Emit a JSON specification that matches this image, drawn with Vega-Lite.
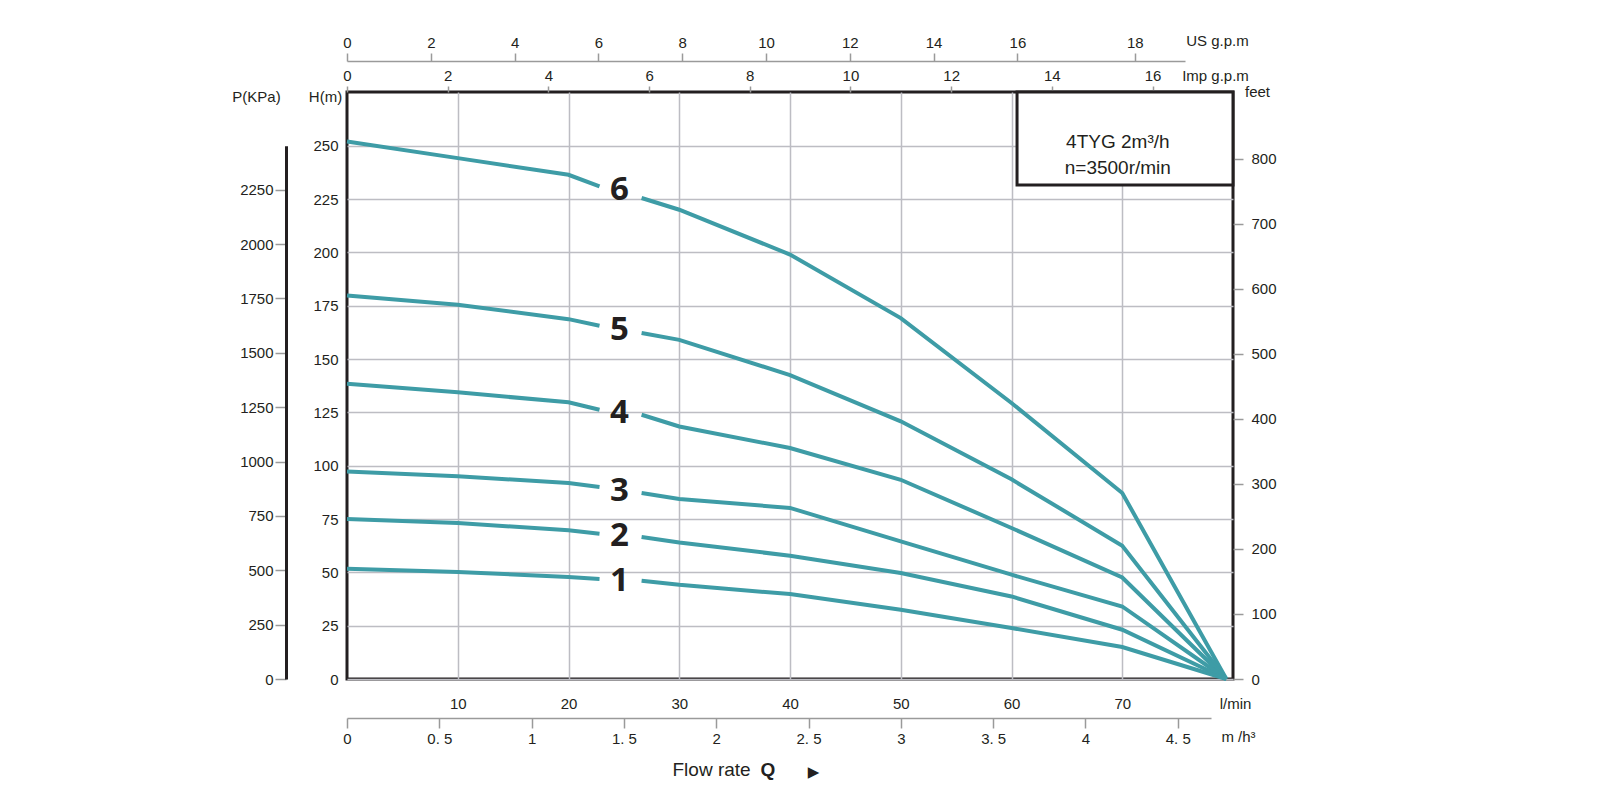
{
  "$schema": "https://vega.github.io/schema/vega-lite/v6.json",
  "width": 886,
  "height": 587,
  "autosize": {"type": "none"},
  "padding": {"left": 347, "top": 92, "right": 367, "bottom": 121},
  "background": "white",
  "config": {
    "view": {"stroke": "#231f20", "strokeWidth": 3},
    "axis": {
      "labelFont": "Liberation Sans", "labelFontSize": 15, "labelColor": "#231f20",
      "titleFont": "Liberation Sans", "titleFontSize": 15, "titleFontWeight": "normal", "titleColor": "#231f20",
      "gridColor": "#bdbdc3", "gridWidth": 1.5, "tickColor": "#9a9a9a", "tickWidth": 1.5,
      "domainColor": "#9a9a9a", "domainWidth": 1.5, "labelFlush": false, "labelOverlap": false
    }
  },
  "datasets": {
    "curves": [
      {"pump": "6", "seg": "6a", "q": 0, "h": 252},
      {"pump": "6", "seg": "6a", "q": 10, "h": 244.2},
      {"pump": "6", "seg": "6a", "q": 20, "h": 236.4},
      {"pump": "6", "seg": "6a", "q": 22.8, "h": 231},
      {"pump": "6", "seg": "6b", "q": 26.6, "h": 225.5},
      {"pump": "6", "seg": "6b", "q": 30, "h": 220},
      {"pump": "6", "seg": "6b", "q": 40, "h": 199},
      {"pump": "6", "seg": "6b", "q": 50, "h": 169.2},
      {"pump": "6", "seg": "6b", "q": 60, "h": 129.4},
      {"pump": "6", "seg": "6b", "q": 70, "h": 87.2},
      {"pump": "6", "seg": "6b", "q": 79.4, "h": 0},
      {"pump": "5", "seg": "5a", "q": 0, "h": 179.8},
      {"pump": "5", "seg": "5a", "q": 10, "h": 175.5},
      {"pump": "5", "seg": "5a", "q": 20, "h": 168.7},
      {"pump": "5", "seg": "5a", "q": 22.8, "h": 165.6},
      {"pump": "5", "seg": "5b", "q": 26.6, "h": 162.2},
      {"pump": "5", "seg": "5b", "q": 30, "h": 159},
      {"pump": "5", "seg": "5b", "q": 40, "h": 142.5},
      {"pump": "5", "seg": "5b", "q": 50, "h": 120.8},
      {"pump": "5", "seg": "5b", "q": 60, "h": 93.6},
      {"pump": "5", "seg": "5b", "q": 70, "h": 62.5},
      {"pump": "5", "seg": "5b", "q": 79.4, "h": 0},
      {"pump": "4", "seg": "4a", "q": 0, "h": 138.4},
      {"pump": "4", "seg": "4a", "q": 10, "h": 134.4},
      {"pump": "4", "seg": "4a", "q": 20, "h": 129.7},
      {"pump": "4", "seg": "4a", "q": 22.8, "h": 126.2},
      {"pump": "4", "seg": "4b", "q": 26.6, "h": 123.9},
      {"pump": "4", "seg": "4b", "q": 30, "h": 118.4},
      {"pump": "4", "seg": "4b", "q": 40, "h": 108.3},
      {"pump": "4", "seg": "4b", "q": 50, "h": 93.4},
      {"pump": "4", "seg": "4b", "q": 60, "h": 70.8},
      {"pump": "4", "seg": "4b", "q": 70, "h": 47.6},
      {"pump": "4", "seg": "4b", "q": 79.4, "h": 0},
      {"pump": "3", "seg": "3a", "q": 0, "h": 97.3},
      {"pump": "3", "seg": "3a", "q": 10, "h": 95},
      {"pump": "3", "seg": "3a", "q": 20, "h": 91.9},
      {"pump": "3", "seg": "3a", "q": 22.8, "h": 90},
      {"pump": "3", "seg": "3b", "q": 26.6, "h": 87.2},
      {"pump": "3", "seg": "3b", "q": 30, "h": 84.4},
      {"pump": "3", "seg": "3b", "q": 40, "h": 80.2},
      {"pump": "3", "seg": "3b", "q": 50, "h": 64.5},
      {"pump": "3", "seg": "3b", "q": 60, "h": 48.9},
      {"pump": "3", "seg": "3b", "q": 70, "h": 34},
      {"pump": "3", "seg": "3b", "q": 79.4, "h": 0},
      {"pump": "2", "seg": "2a", "q": 0, "h": 75},
      {"pump": "2", "seg": "2a", "q": 10, "h": 73.1},
      {"pump": "2", "seg": "2a", "q": 20, "h": 69.7},
      {"pump": "2", "seg": "2a", "q": 22.8, "h": 68.1},
      {"pump": "2", "seg": "2b", "q": 26.6, "h": 66.6},
      {"pump": "2", "seg": "2b", "q": 30, "h": 64},
      {"pump": "2", "seg": "2b", "q": 40, "h": 57.8},
      {"pump": "2", "seg": "2b", "q": 50, "h": 49.7},
      {"pump": "2", "seg": "2b", "q": 60, "h": 38.7},
      {"pump": "2", "seg": "2b", "q": 70, "h": 23.1},
      {"pump": "2", "seg": "2b", "q": 79.4, "h": 0},
      {"pump": "1", "seg": "1a", "q": 0, "h": 51.7},
      {"pump": "1", "seg": "1a", "q": 10, "h": 50.2},
      {"pump": "1", "seg": "1a", "q": 20, "h": 47.8},
      {"pump": "1", "seg": "1a", "q": 22.8, "h": 46.9},
      {"pump": "1", "seg": "1b", "q": 26.6, "h": 46.1},
      {"pump": "1", "seg": "1b", "q": 30, "h": 44.2},
      {"pump": "1", "seg": "1b", "q": 40, "h": 39.8},
      {"pump": "1", "seg": "1b", "q": 50, "h": 32.5},
      {"pump": "1", "seg": "1b", "q": 60, "h": 23.9},
      {"pump": "1", "seg": "1b", "q": 70, "h": 15},
      {"pump": "1", "seg": "1b", "q": 79.4, "h": 0}
    ],
    "labels": [
      {"pump": "6", "q": 24.6, "h": 229.2},
      {"pump": "5", "q": 24.6, "h": 163.7},
      {"pump": "4", "q": 24.6, "h": 124.7},
      {"pump": "3", "q": 24.6, "h": 88},
      {"pump": "2", "q": 24.6, "h": 67.2},
      {"pump": "1", "q": 24.6, "h": 45.8}
    ]
  },
  "resolve": {
    "scale": {"x": "independent", "y": "independent"},
    "axis": {"x": "independent", "y": "independent"}
  },
  "layer": [
    {
      "layer": [
        {
          "data": {"name": "curves"},
          "mark": {"type": "line", "color": "#3e9ca6", "strokeWidth": 4},
          "encoding": {
            "x": {
              "field": "q", "type": "quantitative",
              "scale": {"domain": [0, 80], "nice": false},
              "axis": {
                "orient": "bottom", "values": [10, 20, 30, 40, 50, 60, 70], "grid": true,
                "ticks": false, "domain": false, "labelPadding": 17,
                "title": "l/min", "titleX": 888, "titleY": 24, "titleAlign": "center",
                "titleBaseline": "middle", "titleAngle": 0
              }
            },
            "y": {
              "field": "h", "type": "quantitative",
              "scale": {"domain": [0, 275.2], "nice": false},
              "axis": {
                "orient": "left", "values": [0, 25, 50, 75, 100, 125, 150, 175, 200, 225, 250],
                "grid": true, "ticks": false, "domain": false, "labelPadding": 9,
                "title": "H(m)", "titleX": -22, "titleY": 4, "titleAngle": 0,
                "titleAlign": "center", "titleBaseline": "middle"
              }
            },
            "detail": {"field": "seg"}
          }
        },
        {
          "data": {"name": "labels"},
          "mark": {"type": "text", "font": "Open Sans", "fontWeight": "bold", "fontSize": 33, "color": "#231f20", "baseline": "middle", "align": "center"},
          "encoding": {
            "x": {"field": "q", "type": "quantitative"},
            "y": {"field": "h", "type": "quantitative"},
            "text": {"field": "pump"}
          }
        },
        {
          "data": {"values": [{}]},
          "mark": {"type": "rect", "fill": "white", "stroke": "#231f20", "strokeWidth": 3},
          "encoding": {
            "x": {"datum": 60.5},
            "x2": {"datum": 80},
            "y": {"datum": 231.6},
            "y2": {"datum": 275.2}
          }
        },
        {
          "data": {"values": [{}]},
          "mark": {"type": "text", "font": "Liberation Sans", "fontSize": 19, "color": "#231f20", "lineHeight": 26, "align": "center", "baseline": "middle", "text": ["4TYG 2m³/h", "n=3500r/min"]},
          "encoding": {
            "x": {"datum": 69.6},
            "y": {"datum": 251.7}
          }
        }
      ]
    },
    {
      "data": {"values": [{}]},
      "mark": {"type": "point", "opacity": 0},
      "encoding": {
        "x": {
          "datum": 0, "type": "quantitative",
          "scale": {"domain": [0, 4.68], "range": [0, 864], "nice": false},
          "axis": {
            "orient": "bottom", "offset": 39, "values": [0, 0.5, 1, 1.5, 2, 2.5, 3, 3.5, 4, 4.5],
            "labelExpr": "replace(toString(datum.value), '.', '. ')", "tickSize": 10, "labelPadding": 3, "grid": false,
            "title": "m /h³", "titleX": 891, "titleY": 18, "titleAlign": "center", "titleBaseline": "middle", "titleAngle": 0
          }
        },
        "y": {
          "datum": 0, "type": "quantitative",
          "scale": {"domain": [0, 2452.5], "range": [587, 53.7], "nice": false},
          "axis": {
            "orient": "left", "offset": 61, "values": [0, 250, 500, 750, 1000, 1250, 1500, 1750, 2000, 2250],
            "format": "d", "domainColor": "#231f20", "domainWidth": 3, "tickSize": 11, "labelPadding": 2, "grid": false,
            "title": "P(KPa)", "titleX": -30, "titleY": 4, "titleAngle": 0, "titleAlign": "center", "titleBaseline": "middle"
          }
        }
      }
    },
    {
      "data": {"values": [{}]},
      "mark": {"type": "point", "opacity": 0},
      "encoding": {
        "x": {
          "datum": 0, "type": "quantitative",
          "scale": {"domain": [0, 17.598], "nice": false},
          "axis": {
            "orient": "top", "values": [0, 2, 4, 6, 8, 10, 12, 14, 16], "domain": false,
            "tickSize": 6, "labelPadding": 3, "grid": false,
            "title": "Imp g.p.m", "titleX": 868, "titleY": -17, "titleAlign": "center", "titleBaseline": "middle", "titleAngle": 0
          }
        },
        "y": {
          "datum": 0, "type": "quantitative",
          "scale": {"domain": [0, 902.9], "nice": false},
          "axis": {
            "orient": "right", "values": [0, 100, 200, 300, 400, 500, 600, 700, 800], "domain": false,
            "tickSize": 10, "labelPadding": 8, "grid": false,
            "title": "feet", "titleX": 24, "titleY": -1, "titleAngle": 0, "titleAlign": "center", "titleBaseline": "middle"
          }
        }
      }
    },
    {
      "data": {"values": [{}]},
      "mark": {"type": "point", "opacity": 0},
      "encoding": {
        "x": {
          "datum": 0, "type": "quantitative",
          "scale": {"domain": [0, 20], "range": [0, 838], "nice": false},
          "axis": {
            "orient": "top", "offset": 31, "values": [0, 2, 4, 6, 8, 10, 12, 14, 16, 18.8],
            "labelExpr": "datum.value > 18 ? '18' : datum.label",
            "tickSize": 8, "labelPadding": 3, "grid": false,
            "title": "US g.p.m", "titleX": 870, "titleY": -21, "titleAlign": "center", "titleBaseline": "middle", "titleAngle": 0
          }
        },
        "y": {
          "datum": 0, "type": "quantitative",
          "scale": {"domain": [0, 1]},
          "axis": {
            "orient": "left", "labels": false, "ticks": false, "domain": false, "grid": false,
            "title": "▶", "titleFont": "DejaVu Sans", "titleFontSize": 15, "titleX": 466, "titleY": 679,
            "titleAngle": 0, "titleAlign": "center", "titleBaseline": "middle"
          }
        }
      }
    },
    {
      "data": {"values": [{}]},
      "mark": {"type": "point", "opacity": 0},
      "encoding": {
        "x": {
          "datum": 0, "type": "quantitative",
          "scale": {"domain": [0, 1]},
          "axis": {
            "orient": "bottom", "labels": false, "ticks": false, "domain": false, "grid": false,
            "title": "Flow rate", "titleFontSize": 19, "titleX": 325, "titleY": 96,
            "titleAlign": "left", "titleBaseline": "alphabetic", "titleAngle": 0
          }
        },
        "y": {
          "datum": 0, "type": "quantitative",
          "scale": {"domain": [0, 1]},
          "axis": {
            "orient": "left", "labels": false, "ticks": false, "domain": false, "grid": false,
            "title": "Q", "titleFontSize": 19, "titleFontWeight": "bold", "titleX": 413, "titleY": 683,
            "titleAngle": 0, "titleAlign": "left", "titleBaseline": "alphabetic"
          }
        }
      }
    }
  ]
}
